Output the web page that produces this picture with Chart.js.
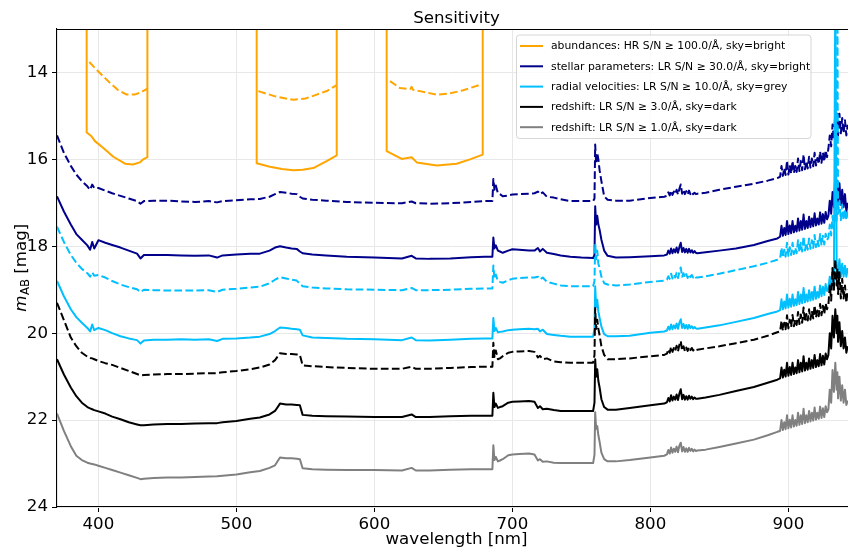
<!DOCTYPE html>
<html><head><meta charset="utf-8">
<script src="https://cdn.jsdelivr.net/npm/chart.js@4.4.0/dist/chart.umd.min.js"></script>
<style>html,body{margin:0;padding:0;background:#fff;overflow:hidden}canvas{display:block}</style>
</head><body>
<canvas id="c" width="848" height="548"></canvas>
<script>
// ---------- data ----------
const wavelength = [
370,375,380,384,388,392,394,395.5,397,400,
405,410,416,422,428,430.5,433,440,450,460,
470,480,486,490,500,510,517,524,528,531.6,
536,540,543.7,546,548,555,565,580,600,620,
627,630,640,655,670,680,685.5,686.2,687,688,
689.5,691,693,697,700,705,712,716,718.5,720,
722,725,730,735,742,750,758.5,759.5,760,760.7,
761.5,762.3,763.2,764.5,766.5,769,775,785,800,810,
812,813,814,815,816,817,818,819,820,821,822,823,824,825,826,827,828,829,830,831,832,833,834,
840,850,862,875,885,892,
894,895,896,897,898,899,900,901,902,903,904,905,906,907,908,909,910,911,912,913,914,915,916,917,918,919,920,921,922,923,924,925,926,927,928,
929,930,931,932,933,934,935,935.5,936,937,938,939,940,941,942,943];

const stellarDashed = [
15.45,15.85,16.15,16.35,16.5,16.62,16.7,16.58,16.66,16.66,
16.72,16.78,16.84,16.9,16.96,17.02,16.96,16.95,16.95,16.97,
16.98,16.96,16.99,16.96,16.94,16.92,16.91,16.86,16.8,16.75,
16.77,16.79,16.8,16.86,16.9,16.93,16.95,16.98,17.0,17.01,
16.97,17.01,17.02,17.01,16.98,16.96,16.96,16.45,16.7,16.6,
16.78,16.8,16.85,16.83,16.81,16.8,16.79,16.78,16.74,16.8,
16.76,16.86,16.88,16.92,16.96,16.96,16.96,16.9,15.66,16.1,
15.85,16.0,16.25,16.5,16.85,16.93,16.95,16.95,16.89,16.86,
16.84,16.76,16.83,16.72,16.82,16.74,16.8,16.7,16.81,16.68,16.58,16.79,16.7,16.8,16.73,16.81,16.72,16.8,16.75,16.8,16.77,16.8,16.79,
16.77,16.7,16.63,16.56,16.49,16.43,
16.40,16.15,16.38,16.2,16.36,16.03,16.35,16.14,16.33,16.04,16.31,16.15,16.29,15.98,16.27,16.04,16.25,15.89,16.23,16.04,16.21,15.94,16.19,15.98,16.16,15.85,16.14,15.97,16.11,15.82,16.08,15.84,16.05,15.79,15.95,
15.75,15.45,15.7,15.2,15.55,14.9,15.3,14.95,15.45,14.95,15.4,15.05,15.4,15.1,15.45,15.2];

const stellarSolid = [
16.85,17.2,17.5,17.72,17.85,17.98,18.08,17.9,18.05,17.86,
17.92,17.97,18.03,18.1,18.17,18.28,18.2,18.2,18.2,18.21,
18.22,18.21,18.26,18.21,18.19,18.17,18.17,18.1,18.03,18.0,
18.03,18.05,18.06,18.12,18.16,18.19,18.21,18.24,18.26,18.28,
18.22,18.28,18.29,18.28,18.25,18.24,18.24,17.8,18.05,17.98,
18.1,18.12,18.15,18.1,18.07,18.08,18.1,18.1,18.04,18.12,
18.06,18.15,18.18,18.21,18.24,18.26,18.27,18.2,17.08,17.5,
17.3,17.5,17.62,17.85,18.1,18.22,18.26,18.25,18.23,18.21,
18.19,18.1,18.17,18.05,18.16,18.07,18.14,18.03,18.15,18.02,17.92,18.13,18.04,18.14,18.06,18.15,18.06,18.14,18.09,18.15,18.11,18.15,18.16,
18.14,18.1,18.05,17.97,17.88,17.82,
17.78,17.53,17.76,17.58,17.74,17.42,17.72,17.52,17.7,17.42,17.68,17.53,17.66,17.36,17.64,17.42,17.62,17.27,17.6,17.42,17.58,17.32,17.56,17.36,17.54,17.24,17.52,17.36,17.5,17.22,17.48,17.26,17.46,17.21,17.38,
17.3,16.95,17.25,16.75,17.1,16.35,16.9,16.5,17.0,16.55,17.05,16.7,17.1,16.8,17.2,17.0];

const radialDashed = [
17.55,17.9,18.2,18.38,18.52,18.62,18.7,18.6,18.68,18.66,
18.72,18.8,18.88,18.94,18.99,19.05,19.0,19.01,19.02,19.02,
19.02,19.01,19.05,19.0,18.98,18.95,18.93,18.85,18.77,18.71,
18.74,18.77,18.79,18.86,18.92,18.95,18.97,18.99,19.0,19.01,
18.96,19.01,19.01,19.0,18.98,18.97,18.97,18.44,18.75,18.65,
18.8,18.82,18.84,18.78,18.75,18.73,18.72,18.72,18.7,18.76,
18.72,18.82,18.86,18.9,18.92,18.92,18.92,18.8,17.93,18.3,
18.1,18.4,18.5,18.7,18.85,18.88,18.9,18.88,18.82,18.79,
18.77,18.69,18.75,18.63,18.74,18.65,18.72,18.61,18.73,18.59,18.49,18.7,18.62,18.72,18.64,18.73,18.64,18.71,18.66,18.72,18.68,18.72,18.72,
18.69,18.63,18.55,18.46,18.38,18.31,
18.28,18.03,18.26,18.08,18.24,17.92,18.22,18.02,18.2,17.92,18.18,18.03,18.16,17.86,18.14,17.92,18.12,17.77,18.1,17.92,18.08,17.82,18.06,17.86,18.04,17.74,18.02,17.86,18.0,17.72,17.98,17.76,17.96,17.71,17.86,
17.8,17.5,17.75,17.3,17.6,17.1,17.45,12.0,17.25,16.95,17.4,17.05,17.4,17.15,17.4,17.2];

const radialSolid = [
18.8,19.15,19.45,19.63,19.76,19.88,19.96,19.8,19.93,19.88,
19.93,20.0,20.07,20.12,20.16,20.24,20.17,20.15,20.15,20.14,
20.15,20.14,20.18,20.13,20.12,20.1,20.08,20.02,19.95,19.87,
19.88,19.9,19.91,19.92,20.05,20.1,20.11,20.13,20.14,20.16,
20.1,20.16,20.17,20.15,20.13,20.12,20.12,19.65,19.95,19.88,
19.98,19.97,19.96,19.93,19.92,19.91,19.9,19.91,19.9,19.96,
19.92,20.02,20.04,20.06,20.08,20.08,20.08,19.9,18.92,19.4,
19.23,19.5,19.65,19.85,20.02,20.07,20.07,20.06,19.99,19.96,
19.94,19.85,19.92,19.8,19.91,19.82,19.89,19.78,19.9,19.76,19.68,19.88,19.79,19.89,19.81,19.9,19.81,19.88,19.84,19.89,19.86,19.89,19.9,
19.87,19.82,19.74,19.65,19.56,19.5,
19.47,19.22,19.45,19.27,19.43,19.11,19.41,19.21,19.39,19.11,19.37,19.22,19.35,19.05,19.33,19.11,19.31,18.96,19.29,19.11,19.27,19.01,19.25,19.05,19.23,18.93,19.21,19.05,19.18,18.9,19.15,18.93,19.12,18.87,19.03,
18.97,18.7,18.95,18.5,18.85,12.0,18.6,18.75,18.55,18.3,18.7,18.4,18.7,18.45,18.7,18.5];

const redshift3Dashed = [
19.3,19.7,20.1,20.3,20.45,20.54,20.57,20.58,20.6,20.64,
20.69,20.73,20.8,20.87,20.94,20.97,20.96,20.95,20.94,20.94,
20.93,20.92,20.92,20.9,20.87,20.83,20.79,20.72,20.62,20.46,
20.48,20.48,20.49,20.5,20.74,20.76,20.78,20.8,20.82,20.82,
20.77,20.82,20.82,20.8,20.78,20.77,20.77,20.22,20.55,20.4,
20.6,20.58,20.53,20.45,20.43,20.42,20.41,20.43,20.56,20.52,
20.6,20.58,20.65,20.67,20.68,20.68,20.68,20.5,19.42,19.9,
19.69,19.9,20.05,20.3,20.5,20.6,20.6,20.58,20.53,20.5,
20.47,20.37,20.45,20.31,20.43,20.34,20.41,20.29,20.42,20.27,20.18,20.4,20.3,20.41,20.33,20.41,20.32,20.39,20.34,20.4,20.36,20.39,20.38,
20.35,20.3,20.23,20.15,20.06,19.98,
19.96,19.71,19.94,19.76,19.91,19.59,19.89,19.69,19.86,19.58,19.84,19.69,19.81,19.51,19.79,19.57,19.76,19.41,19.74,19.56,19.71,19.45,19.69,19.49,19.66,19.36,19.64,19.48,19.61,19.33,19.59,19.37,19.56,19.31,19.45,
19.35,18.9,19.25,18.5,19.0,18.3,18.9,18.5,19.1,18.6,19.2,18.75,19.2,18.9,19.3,19.0];

const redshift3Solid = [
20.6,20.95,21.25,21.45,21.6,21.7,21.73,21.75,21.77,21.8,
21.85,21.92,21.98,22.05,22.1,22.12,22.12,22.1,22.09,22.09,
22.08,22.07,22.07,22.05,22.02,21.97,21.94,21.87,21.79,21.62,
21.64,21.64,21.65,21.66,21.88,21.9,21.91,21.92,21.93,21.93,
21.87,21.93,21.93,21.91,21.9,21.9,21.9,21.37,21.7,21.62,
21.72,21.7,21.68,21.6,21.58,21.57,21.56,21.58,21.72,21.68,
21.75,21.74,21.77,21.79,21.79,21.79,21.79,21.6,20.6,21.0,
20.83,21.1,21.25,21.52,21.7,21.76,21.76,21.72,21.66,21.62,
21.59,21.49,21.57,21.43,21.55,21.46,21.53,21.41,21.54,21.39,21.29,21.52,21.42,21.53,21.45,21.53,21.44,21.51,21.46,21.52,21.48,21.51,21.51,
21.48,21.42,21.33,21.24,21.14,21.07,
21.04,20.79,21.02,20.84,21.0,20.68,20.98,20.78,20.96,20.68,20.94,20.79,20.92,20.62,20.9,20.68,20.88,20.53,20.86,20.68,20.84,20.58,20.82,20.62,20.8,20.5,20.78,20.62,20.76,20.48,20.74,20.52,20.72,20.47,20.6,
20.5,20.0,20.35,19.6,20.1,19.45,20.0,19.6,20.2,19.75,20.3,19.95,20.35,20.1,20.45,20.3];

const redshift1Solid = [
21.85,22.25,22.6,22.82,22.92,22.98,23.0,23.01,23.02,23.05,
23.1,23.15,23.21,23.27,23.33,23.36,23.35,23.33,23.32,23.32,
23.31,23.3,23.29,23.28,23.25,23.2,23.17,23.1,23.04,22.86,
22.88,22.88,22.89,22.9,23.11,23.13,23.14,23.15,23.15,23.16,
23.1,23.16,23.16,23.14,23.13,23.13,23.13,22.58,22.92,22.85,
22.95,22.93,22.9,22.81,22.79,22.78,22.77,22.79,22.93,22.9,
22.96,22.95,22.98,22.99,22.99,22.99,22.99,22.8,21.82,22.2,
22.14,22.35,22.5,22.75,22.9,22.95,22.95,22.92,22.86,22.82,
22.79,22.69,22.77,22.63,22.75,22.66,22.73,22.61,22.74,22.59,22.52,22.72,22.62,22.73,22.65,22.73,22.64,22.71,22.66,22.72,22.68,22.71,22.7,
22.68,22.62,22.54,22.45,22.35,22.27,
22.25,22.0,22.23,22.05,22.21,21.89,22.19,21.99,22.17,21.89,22.15,22.0,22.13,21.83,22.11,21.89,22.09,21.74,22.07,21.89,22.05,21.79,22.03,21.83,22.01,21.71,21.99,21.83,21.97,21.69,21.95,21.73,21.93,21.68,21.82,
21.75,21.3,21.6,20.85,21.35,20.68,21.3,20.9,21.5,21.0,21.55,21.2,21.6,21.3,21.65,21.55];

// HR (abundances) windows; null = gap between windows
const abundWl = [391.5,391.5,395,397.5,403.6,410.8,419.3,425,430,432.5,435.5,435.5,
  470,
  514.7,514.7,524.3,533,541.2,548,555.7,565.4,572.7,572.7,
  590,
  608.9,608.9,619.8,627,630.7,645.2,659.6,669.3,678.5,678.5];
const abundSolid = [11,15.38,15.47,15.58,15.74,15.94,16.1,16.12,16.07,16.0,15.95,11,
  null,
  11,16.09,16.17,16.22,16.25,16.24,16.2,16.04,15.91,11,
  null,
  11,15.81,15.99,15.95,16.07,16.14,16.1,16.0,15.89,11];
const abundDashWl = [393.4,400,408.4,414,420.5,426,430,435.5,
  470,
  515.9,528,541.2,550,558.2,566,572.7,
  590,
  611.3,618.6,626,627,628,633,645.2,655,664.4,677.7];
const abundDashed = [13.76,13.98,14.24,14.4,14.51,14.51,14.47,14.37,
  null,
  14.43,14.55,14.63,14.6,14.51,14.42,14.29,
  null,
  14.2,14.36,14.38,14.33,14.4,14.43,14.51,14.48,14.41,14.27];

const xTicks = [400,500,600,700,800,900];
const yTicks = [14,16,18,20,22,24];
const titleText = 'Sensitivity';
const xLabel = 'wavelength [nm]';
const legendLabels = [
  'abundances: HR S/N \u2265 100.0/\u00C5, sky=bright',
  'stellar parameters: LR S/N \u2265 30.0/\u00C5, sky=bright',
  'radial velocities: LR S/N \u2265 10.0/\u00C5, sky=grey',
  'redshift: LR S/N \u2265 3.0/\u00C5, sky=dark',
  'redshift: LR S/N \u2265 1.0/\u00C5, sky=dark'];
const colors = ['#FFA500','#00008B','#00BFFF','#000000','#808080'];

// ---------- chart ----------
const FONT = '"DejaVu Sans", sans-serif';
const DASH = [7.7, 3.3];
function pts(xs, ys){ return xs.map((x,i)=>({x:x, y:ys[i]})); }
function ds(label, xs, ys, color, dashed, order){
  return {label:label, data:pts(xs,ys), borderColor:color, backgroundColor:color,
    borderWidth:2, borderDash: dashed?DASH:[], pointRadius:0, spanGaps:false,
    fill:false, tension:0, order:order, borderJoinStyle:'round'};
}

const decor = {
  id:'decor',
  afterDraw(chart){
    const ctx = chart.ctx, ca = chart.chartArea;
    ctx.save();
    // top spine
    ctx.strokeStyle = '#000'; ctx.lineWidth = 1.1;
    ctx.beginPath(); ctx.moveTo(ca.left, ca.top+0.5); ctx.lineTo(ca.right, ca.top+0.5); ctx.stroke();
    // title
    ctx.fillStyle = '#000';
    ctx.font = '16.67px ' + FONT; ctx.textAlign = 'center'; ctx.textBaseline = 'alphabetic';
    ctx.fillText(titleText, 456.5, 23);
    // x label
    ctx.fillText(xLabel, 456.5, 543.5);
    // y label with subscript
    ctx.save();
    ctx.translate(25.5, 268); ctx.rotate(-Math.PI/2);
    ctx.textAlign = 'left';
    ctx.font = 'italic 16.67px ' + FONT; const wm = ctx.measureText('m').width;
    ctx.font = '11.7px ' + FONT; const wab = ctx.measureText('AB').width;
    ctx.font = '16.67px ' + FONT; const wr = ctx.measureText(' [mag]').width;
    let x0 = -(wm + wab + wr)/2;
    ctx.font = 'italic 16.67px ' + FONT; ctx.fillText('m', x0, 0);
    ctx.font = '11.7px ' + FONT; ctx.fillText('AB', x0 + wm + 0.5, 3.5);
    ctx.font = '16.67px ' + FONT; ctx.fillText(' [mag]', x0 + wm + wab + 0.5, 0);
    ctx.restore();
    // legend
    const bx = 516.5, by = 35, bw = 294.5, bh = 103.5, r = 3;
    ctx.beginPath();
    ctx.moveTo(bx+r, by); ctx.lineTo(bx+bw-r, by); ctx.arcTo(bx+bw, by, bx+bw, by+r, r);
    ctx.lineTo(bx+bw, by+bh-r); ctx.arcTo(bx+bw, by+bh, bx+bw-r, by+bh, r);
    ctx.lineTo(bx+r, by+bh); ctx.arcTo(bx, by+bh, bx, by+bh-r, r);
    ctx.lineTo(bx, by+r); ctx.arcTo(bx, by, bx+r, by, r); ctx.closePath();
    ctx.fillStyle = 'rgba(255,255,255,0.8)'; ctx.fill();
    ctx.strokeStyle = 'rgba(204,204,204,0.8)'; ctx.lineWidth = 1; ctx.stroke();
    ctx.font = '10.8px ' + FONT; ctx.textAlign = 'left'; ctx.textBaseline = 'middle';
    for (let i = 0; i < legendLabels.length; i++){
      const yy = 46 + i*20.3;
      ctx.strokeStyle = colors[i]; ctx.lineWidth = 2; ctx.setLineDash([]);
      ctx.beginPath(); ctx.moveTo(520, yy); ctx.lineTo(543, yy); ctx.stroke();
      ctx.fillStyle = '#000'; ctx.fillText(legendLabels[i], 551, yy + 0.5);
    }
    ctx.restore();
  }
};

const gridCfg = {color:'#e8e8e8', tickColor:'#000', tickLength:5, lineWidth:1, drawTicks:true};
new Chart(document.getElementById('c'), {
  type:'line',
  data:{datasets:[
    ds(legendLabels[0], abundWl, abundSolid, colors[0], false, 9),
    ds('abundances (dashed)', abundDashWl, abundDashed, colors[0], true, 8),
    ds(legendLabels[1], wavelength, stellarSolid, colors[1], false, 7),
    ds('stellar parameters (dashed)', wavelength, stellarDashed, colors[1], true, 6),
    ds(legendLabels[2], wavelength, radialSolid, colors[2], false, 5),
    ds('radial velocities (dashed)', wavelength, radialDashed, colors[2], true, 4),
    ds(legendLabels[3], wavelength, redshift3Solid, colors[3], false, 3),
    ds('redshift 3 (dashed)', wavelength, redshift3Dashed, colors[3], true, 2),
    ds(legendLabels[4], wavelength, redshift1Solid, colors[4], false, 1)
  ]},
  options:{
    responsive:false, animation:false, devicePixelRatio:1,
    layout:{padding:{top:29, left:0, right:0, bottom:0}},
    plugins:{legend:{display:false}, title:{display:false}, tooltip:{enabled:false}},
    scales:{
      x:{type:'linear', min:370, max:943.2,
        afterBuildTicks:(s)=>{ s.ticks = xTicks.map(v=>({value:v})); },
        afterFit:(s)=>{ s.height = 41; },
        grid:gridCfg, border:{color:'#000', width:1.1},
        ticks:{color:'#000', font:{family:FONT, size:16.67}, padding:3, maxRotation:0, autoSkip:false}},
      y:{type:'linear', reverse:true, min:13, max:24,
        afterBuildTicks:(s)=>{ s.ticks = yTicks.map(v=>({value:v})); },
        afterFit:(s)=>{ s.width = 57; },
        grid:gridCfg, border:{color:'#000', width:1.1},
        ticks:{color:'#000', font:{family:FONT, size:16.67}, padding:4}}
    }
  },
  plugins:[decor]
});
</script>
</body></html>
